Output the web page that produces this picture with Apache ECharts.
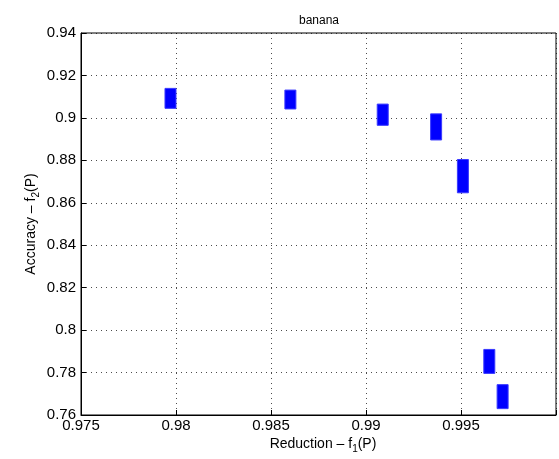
<!DOCTYPE html>
<html>
<head>
<meta charset="utf-8">
<script src="https://cdn.jsdelivr.net/npm/echarts@6/dist/echarts.min.js"></script>
<style>
  html, body { margin: 0; padding: 0; background: #fff; }
  #chart { width: 559px; height: 459px; }
</style>
</head>
<body>
<div id="chart"></div>
<script>
// Pareto front samples: reduction f1 (x) against accuracy f2 (y) spread per solution
const reduction   = [0.97971, 0.98602, 0.99088, 0.99369, 0.99510, 0.99649, 0.99719];
const accuracyMax = [0.9139, 0.9131, 0.9065, 0.9019, 0.8804, 0.7909, 0.7743];
const accuracyMin = [0.9045, 0.9042, 0.8965, 0.8896, 0.8647, 0.7796, 0.7630];

const xTicks = ['0.975', '0.98', '0.985', '0.99', '0.995'];
const yTicks = ['0.76', '0.78', '0.8', '0.82', '0.84', '0.86', '0.88', '0.9', '0.92', '0.94'];

const FONT = 'Liberation Sans, Arial, sans-serif';
const chart = echarts.init(document.getElementById('chart'), null, { renderer: 'canvas' });

const fmt = (list) => (v) => {
  const s = String(parseFloat(v.toFixed(4)));
  return list.includes(s) ? s : '';
};

const data = reduction.map((x, i) => [x, accuracyMin[i], accuracyMax[i]]);

const labelRich = {
  n: { fontFamily: FONT, fontSize: 14, fill: '#000', color: '#000' },
  s: { fontFamily: FONT, fontSize: 10, fill: '#000', color: '#000', padding: [10, 0, 0, 0] }
};

chart.setOption({
  animation: false,
  backgroundColor: '#fff',
  grid: {
    left: 81, top: 33, width: 485, height: 382,
    show: true, borderColor: '#000', borderWidth: 1, backgroundColor: 'transparent'
  },
  title: {
    text: 'banana', left: 314, top: 10, textAlign: 'center',
    textStyle: { fontFamily: FONT, fontSize: 12, fontWeight: 'normal', color: '#000' }
  },
  xAxis: {
    type: 'value', min: 0.975, max: 1.0, interval: 0.005,
    axisLine: { show: true, onZero: false, lineStyle: { color: '#000', width: 1 } },
    axisTick: { show: true, inside: true, length: 5, lineStyle: { color: '#000' } },
    axisLabel: { formatter: fmt(xTicks), fontFamily: FONT, fontSize: 15, color: '#000', margin: 3 },
    splitLine: { show: true, lineStyle: { color: '#000', type: [1, 4], width: 1, opacity: 0.7 } }
  },
  yAxis: {
    type: 'value', min: 0.76, max: 0.94, interval: 0.02,
    axisLine: { show: true, onZero: false, lineStyle: { color: '#000', width: 1 } },
    axisTick: { show: true, inside: true, length: 5, lineStyle: { color: '#000' } },
    axisLabel: { formatter: fmt(yTicks), fontFamily: FONT, fontSize: 15, color: '#000', margin: 5 },
    splitLine: { show: true, lineStyle: { color: '#000', type: [1, 4], width: 1, opacity: 0.7 } }
  },
  graphic: [
    {
      type: 'text',
      x: 323, y: 444,
      style: {
        text: '{n|Reduction – f}{s|1}{n|(P)}',
        rich: labelRich,
        textAlign: 'center', textVerticalAlign: 'middle'
      }
    },
    {
      type: 'text',
      rotation: Math.PI / 2,
      x: 31, y: 224,
      style: {
        text: '{n|Accuracy – f}{s|2}{n|(P)}',
        rich: labelRich,
        textAlign: 'center', textVerticalAlign: 'middle'
      }
    }
  ],
  series: [{
    type: 'custom',
    coordinateSystem: 'cartesian2d',
    encode: { x: 0, y: [1, 2] },
    data: data,
    renderItem: (params, api) => {
      const lo = api.coord([api.value(0), api.value(1)]);
      const hi = api.coord([api.value(0), api.value(2)]);
      const w = 11;
      return {
        type: 'rect',
        shape: { x: lo[0] - w / 2, y: hi[1], width: w, height: lo[1] - hi[1] },
        style: { fill: '#0000ff', stroke: '#3a3aff', lineWidth: 1 }
      };
    }
  }]
});
</script>
</body>
</html>
